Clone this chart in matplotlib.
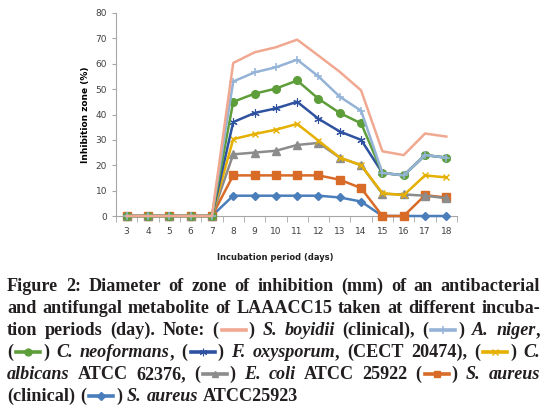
import re
import matplotlib
matplotlib.use("Agg")
import matplotlib.pyplot as plt
from matplotlib.lines import Line2D

#========================================================
# data
#========================================================
days = [3, 4, 5, 6, 7, 8, 9, 10, 11, 12, 13, 14, 15, 16, 17, 18]

s_boyidii     = [0, 0, 0, 0, 0, 60.3, 64.5, 66.5, 69.5, 63.2, 56.8, 49.5, 25.5, 24.0, 32.5, 31.3]
a_niger       = [0, 0, 0, 0, 0, 53.0, 56.6, 58.6, 61.6, 55.0, 47.0, 41.5, 17.0, 16.0, 24.0, 23.0]
c_neoformans  = [0, 0, 0, 0, 0, 45.0, 48.2, 50.2, 53.4, 46.2, 40.6, 36.5, 17.0, 16.0, 24.0, 23.0]
f_oxysporum   = [0, 0, 0, 0, 0, 37.0, 40.6, 42.4, 45.0, 38.3, 33.3, 30.0, 17.0, 16.0, 24.0, 23.0]
c_albicans    = [0, 0, 0, 0, 0, 30.3, 32.3, 34.0, 36.3, 29.7, 23.0, 20.0, 9.0, 8.2, 16.0, 15.2]
e_coli        = [0, 0, 0, 0, 0, 24.3, 25.0, 25.7, 28.0, 28.8, 23.0, 20.0, 8.7, 8.5, 8.0, 7.0]
s_aureus_cl   = [0, 0, 0, 0, 0, 16.0, 16.0, 16.0, 16.0, 16.0, 14.3, 11.0, 0, 0, 8.2, 7.3]
s_aureus_atcc = [0, 0, 0, 0, 0, 8.0, 8.0, 8.0, 8.0, 8.0, 7.3, 5.7, 0, 0, 0, 0]

series = [s_boyidii, a_niger, c_neoformans, f_oxysporum,
          c_albicans, e_coli, s_aureus_cl, s_aureus_atcc]
colors = ["#F0A890", "#95B3D7", "#5E9E3A", "#2F52A0",
          "#E5B000", "#8C8C8C", "#D86B27", "#4A7EBB"]
markers = ["", "+", "o", (6, 2, 0), "x", "^", "s", "D"]
msizes = [0, 6, 5.5, 6, 5, 5.5, 5.5, 4.5]
medges = [1, 1.1, 1, 0.8, 1, 1, 1, 1]

y_ticks = [0, 10, 20, 30, 40, 50, 60, 70, 80]

caption = [
    "Figure 2: Diameter of zone of inhibition (mm) of an antibacterial",
    "and antifungal metabolite of LAAACC15 taken at different incuba-",
    "tion periods (day). Note: ({m0}) *S. boyidii* (clinical), ({m1}) *A. niger*,",
    "({m2}) *C. neoformans*, ({m3}) *F. oxysporum*, (CECT 20474), ({m4}) *C.*",
    "*albicans* ATCC 62376, ({m5}) *E. coli* ATCC 25922 ({m6}) *S. aureus*",
    "(clinical) ({m7}) *S. aureus* ATCC25923",
]

W, H = 546, 408
fig = plt.figure(figsize=(W / 100, H / 100), dpi=100)

#========================================================
# chart
#========================================================
ax = fig.add_axes([116 / W, 1 - 216 / H, (457 - 116) / W, (216 - 13) / H])

# draw last series first so the top lines sit above
for i in reversed(range(len(series))):
    ax.plot(days, series[i], color=colors[i], linewidth=1.8,
            marker=markers[i], markersize=msizes[i], markeredgewidth=medges[i],
            clip_on=False, zorder=3)

ax.set_xlim(2.5, 18.5)
ax.set_ylim(0, 80)
ax.set_xticks(days)
ax.set_xticks([d + 0.5 for d in [2] + days], minor=True)
ax.set_yticks(y_ticks)
ax.tick_params(axis="x", which="major", length=0, pad=8, labelsize=6.5, labelcolor="#404040")
ax.tick_params(axis="x", which="minor", length=4, color="#A6A6A6")
ax.tick_params(axis="y", length=3, color="#A6A6A6", labelsize=6.5, labelcolor="#404040")
for s in ["top", "right"]:
    ax.spines[s].set_visible(False)
for s in ["left", "bottom"]:
    ax.spines[s].set_color("#A6A6A6")
ax.set_ylabel("Inhibition zone (%)", fontsize=6.5, fontweight="bold", labelpad=4)
fig.text(275 / W, 1 - 258 / H, "Incubation period (days)", fontsize=6,
         fontweight="bold", ha="center", va="center", color="#222222")

#========================================================
# caption with inline legend keys, justified
#========================================================
cap_font = "Liberation Serif"
cap_size = 13.1
left_px, right_px = 7, 540
baselines = [291, 313, 335, 357, 379, 401]
key_w = 30
renderer = fig.canvas.get_renderer()


def parse(line):
    words, ital = [], False
    for tok in line.split(" "):
        pieces = []
        for part in re.split(r"(\*|\{m\d\})", tok):
            if part == "*":
                ital = not ital
            elif part.startswith("{m"):
                pieces.append(("m", int(part[2:-1])))
            elif part:
                pieces.append(("i" if ital else "n", part))
        words.append(pieces)
    return words


def make_text(x, y, kind, s):
    return fig.text(x / W, 1 - y / H, s, fontsize=cap_size, family=cap_font,
                    fontweight="bold", fontstyle="italic" if kind == "i" else "normal",
                    ha="left", va="baseline", color="#231F20")


def piece_w(p):
    if p[0] == "m":
        return key_w
    t = make_text(0, 0, p[0], p[1])
    w = t.get_window_extent(renderer).width
    t.remove()
    return w


space_w = cap_size * 100 / 72 * 0.27

for li, line in enumerate(caption):
    words = parse(line)
    widths = [sum(piece_w(p) for p in w) for w in words]
    if li < len(caption) - 1:
        gap = (right_px - left_px - sum(widths)) / (len(words) - 1)
    else:
        gap = space_w
    x = left_px
    y = baselines[li]
    for w in words:
        for p in w:
            if p[0] == "m":
                k = p[1]
                ky = 1 - (y - 5) / H
                fig.add_artist(Line2D([(x + 3) / W, (x + key_w - 3) / W], [ky, ky],
                                      transform=fig.transFigure, color=colors[k],
                                      linewidth=2.6))
                if markers[k]:
                    fig.add_artist(Line2D([(x + key_w / 2) / W], [ky],
                                          transform=fig.transFigure, color=colors[k],
                                          linestyle="none", marker=markers[k],
                                          markersize=msizes[k] * 0.9,
                                          markeredgewidth=medges[k]))
                x += key_w
            else:
                make_text(x, y, p[0], p[1])
                x += piece_w(p)
        x += gap

fig.savefig("out.png", dpi=100)
